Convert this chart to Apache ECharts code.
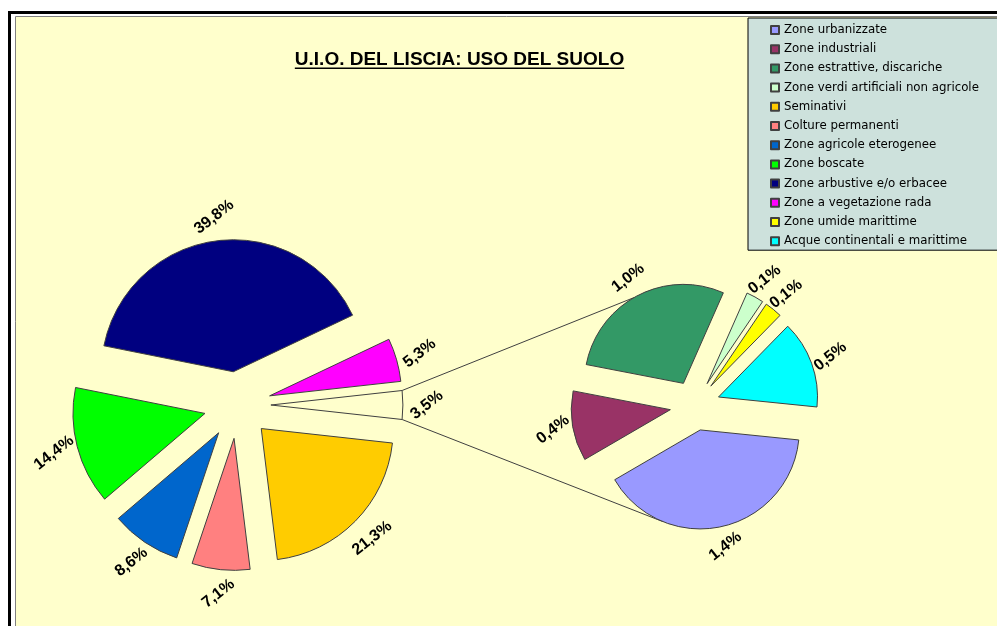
<!DOCTYPE html>
<html><head><meta charset="utf-8">
<script src="https://cdn.jsdelivr.net/npm/echarts@6/dist/echarts.min.js"></script>
<style>html,body{margin:0;padding:0;background:#fff}#c{width:997px;height:626px}</style>
</head><body><div id="c"></div>
<script>
// ---- data ----
const chartTitle = 'U.I.O. DEL LISCIA: USO DEL SUOLO';
const mainNames = ['Seminativi', 'Colture permanenti', 'Zone agricole eterogenee', 'Zone boscate', 'Zone arbustive e/o erbacee', 'Zone a vegetazione rada', 'Altro'];
const mainValues = [21.3, 7.1, 8.6, 14.4, 39.8, 5.3, 3.5];
const mainColors = ['#FFCC00', '#FF8080', '#0066CC', '#00FF00', '#000080', '#FF00FF', '#FFFFCC'];
const subNames = ['Zone urbanizzate', 'Zone industriali', 'Zone estrattive, discariche', 'Zone verdi artificiali non agricole', 'Zone umide marittime', 'Acque continentali e marittime'];
const subValues = [1.4, 0.4, 1.0, 0.1, 0.1, 0.5];
const subColors = ['#9999FF', '#993366', '#339966', '#CCFFCC', '#FFFF00', '#00FFFF'];
const legendOrder = ['Zone urbanizzate', 'Zone industriali', 'Zone estrattive, discariche', 'Zone verdi artificiali non agricole', 'Seminativi', 'Colture permanenti', 'Zone agricole eterogenee', 'Zone boscate', 'Zone arbustive e/o erbacee', 'Zone a vegetazione rada', 'Zone umide marittime', 'Acque continentali e marittime'];

// ---- layout / style ----
const BG = '#FFFFCC';
const EDGE = '#404040';
const mainC = [237.4, 405], mainR = 132, mainOff = 33.5;
const subC = [695, 405.5], subR = 99, subOff = 25;
const sum = a => a.reduce((s, v) => s + v, 0);
const mainTotal = sum(mainValues);
const otherIdx = mainValues.length - 1;
const otherHalf = mainValues[otherIdx] / mainTotal * 360 / 2;
const mainStart = -otherHalf;      // "other" slice centred on the right
const subStart = 354.2;
const fmt = p => p.value.toFixed(1).replace('.', ',') + '%';

const labelFont = { fontFamily: '"Liberation Sans", Arial, sans-serif', fontWeight: 'bold', fontSize: 16, color: '#000', textBorderWidth: 0 };

function pieData(names, values, colors, withColor) {
  return names.map((n, i) => ({
    name: n, value: values[i], selected: true,
    itemStyle: withColor ? { color: colors[i] } : undefined
  }));
}
function basePie(center, radius, start, off) {
  return {
    type: 'pie', center: center, radius: radius, startAngle: start, clockwise: true,
    selectedMode: 'multiple', selectedOffset: off, avoidLabelOverlap: false,
    emphasis: { disabled: true }, animation: false
  };
}

const series = [
  Object.assign(basePie(mainC, mainR, mainStart, mainOff), {
    itemStyle: { borderColor: EDGE, borderWidth: 1 },
    select: { itemStyle: { borderColor: EDGE, borderWidth: 1 } },
    label: { show: false }, labelLine: { show: false },
    data: pieData(mainNames, mainValues, mainColors, true)
  }),
  Object.assign(basePie(subC, subR, subStart, subOff), {
    itemStyle: { borderColor: EDGE, borderWidth: 1 },
    select: { itemStyle: { borderColor: EDGE, borderWidth: 1 } },
    label: { show: false }, labelLine: { show: false },
    data: pieData(subNames, subValues, subColors, true)
  }),
  Object.assign(basePie(mainC, [mainR + 11, mainR + 31], mainStart, mainOff), {
    silent: true,
    itemStyle: { color: 'rgba(0,0,0,0)', borderWidth: 0 },
    select: { itemStyle: { color: 'rgba(0,0,0,0)', borderWidth: 0 } },
    label: Object.assign({ show: true, position: 'inside', rotate: 38, formatter: fmt }, labelFont),
    labelLine: { show: false },
    data: pieData(mainNames, mainValues, mainColors, false)
  }),
  Object.assign(basePie(subC, [subR + 7, subR + 27], subStart, subOff), {
    silent: true,
    itemStyle: { color: 'rgba(0,0,0,0)', borderWidth: 0 },
    select: { itemStyle: { color: 'rgba(0,0,0,0)', borderWidth: 0 } },
    label: Object.assign({ show: true, position: 'inside', rotate: 38, formatter: fmt }, labelFont),
    labelLine: { show: false },
    data: pieData(subNames, subValues, subColors, false)
  })
];

// connector lines from the "other" slice to the secondary pie
const rad = d => d * Math.PI / 180;
const oc = [mainC[0] + mainOff, mainC[1]];
const pTop = [oc[0] + mainR * Math.cos(rad(otherHalf)), oc[1] - mainR * Math.sin(rad(otherHalf))];
const pBot = [oc[0] + mainR * Math.cos(rad(otherHalf)), oc[1] + mainR * Math.sin(rad(otherHalf))];
const subTotal = sum(subValues);
const subMid = [];
{ let a = subStart; subValues.forEach(v => { const s = v / subTotal * 360; subMid.push(a - s / 2); a -= s; }); }
function arcPoint(i, ang) {
  const m = rad(subMid[i]);
  const cx = subC[0] + subOff * Math.cos(m), cy = subC[1] - subOff * Math.sin(m);
  return [cx + subR * Math.cos(rad(ang)), cy - subR * Math.sin(rad(ang))];
}
const qTop = arcPoint(2, 120);
const qBot = arcPoint(0, 248);

// title underline width
const cv = document.createElement('canvas').getContext('2d');
const titleFont = 'bold 19px "Liberation Sans", Arial, sans-serif';
cv.font = titleFont;
const tw = cv.measureText(chartTitle).width;
const titleX = 459.5, titleY = 59.7;

const chart = echarts.init(document.getElementById('c'), null, { renderer: 'canvas' });
chart.setOption({
  animation: false,
  backgroundColor: '#ffffff',
  graphic: [
    { type: 'rect', z: -10, shape: { x: 9.5, y: 12.5, width: 1100, height: 800 }, style: { fill: null, stroke: '#000', lineWidth: 3 } },
    { type: 'rect', z: -9, shape: { x: 15.5, y: 16.5, width: 1100, height: 800 }, style: { fill: BG, stroke: '#808080', lineWidth: 1 } },
    { type: 'line', z: 1, shape: { x1: pTop[0], y1: pTop[1], x2: qTop[0], y2: qTop[1] }, style: { stroke: EDGE, lineWidth: 1 } },
    { type: 'line', z: 1, shape: { x1: pBot[0], y1: pBot[1], x2: qBot[0], y2: qBot[1] }, style: { stroke: EDGE, lineWidth: 1 } },
    { type: 'text', z: 5, x: titleX, y: titleY, style: { text: chartTitle, font: titleFont, fill: '#000', align: 'center', verticalAlign: 'middle' } },
    { type: 'rect', z: 5, shape: { x: titleX - tw / 2, y: 67.5, width: tw, height: 1.6 }, style: { fill: '#000' } }
  ],
  legend: {
    data: legendOrder,
    orient: 'vertical',
    left: 748, top: 18,
    padding: [5, 40, 2, 22],
    itemWidth: 8, itemHeight: 8, itemGap: 5.2,
    icon: 'rect',
    selectedMode: false,
    backgroundColor: '#CDE1DC',
    borderColor: '#000', borderWidth: 1,
    textStyle: { fontFamily: '"DejaVu Sans", sans-serif', fontSize: 11.8, lineHeight: 14, color: '#000' }
  },
  series: series
});
</script>
</body></html>
